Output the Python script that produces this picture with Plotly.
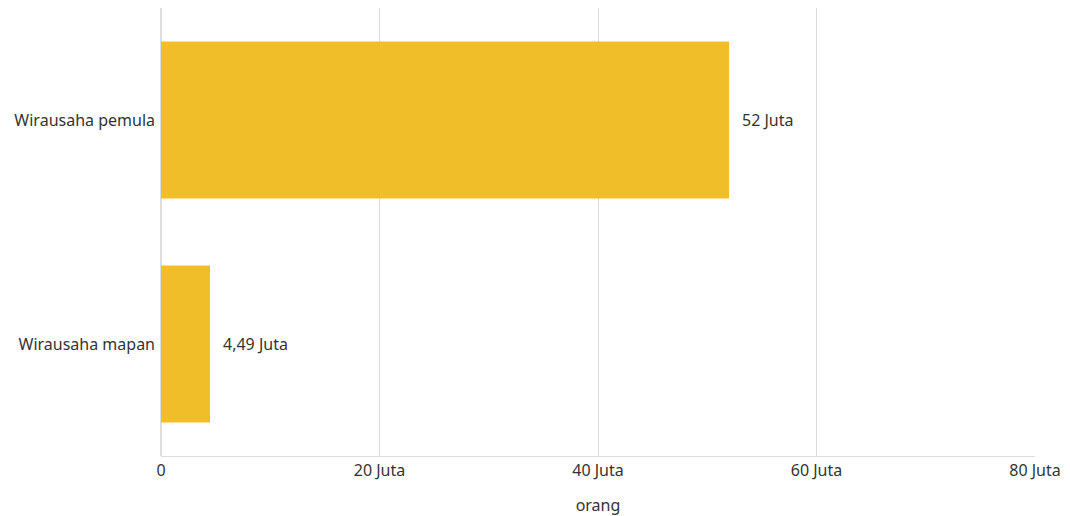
import plotly.graph_objects as go

categories = ["Wirausaha mapan", "Wirausaha pemula"]
values = [4.49, 52]
value_labels = ["4,49 Juta", "52 Juta"]
tick_vals = [0, 20, 40, 60, 80]
tick_text = ["0", "20 Juta", "40 Juta", "60 Juta", "80 Juta"]

font_family = "Segoe UI, Noto Sans, sans-serif"
text_color = "#333333"
fsize = 16

fig = go.Figure()
fig.add_trace(go.Bar(
    y=categories, x=values, orientation="h",
    marker=dict(color="#EFBE29", line=dict(width=0)),
    hoverinfo="skip",
))
for c, v, t in zip(categories, values, value_labels):
    fig.add_annotation(x=v, y=c, text=t, showarrow=False, xanchor="left",
                       xshift=11, font=dict(size=fsize, color=text_color, family=font_family))

fig.update_layout(
    width=1062, height=508,
    margin=dict(l=153, r=35, t=0, b=60),
    plot_bgcolor="white", paper_bgcolor="white",
    bargap=0.30,
    showlegend=False,
    font=dict(family=font_family, size=fsize, color=text_color),
    xaxis=dict(range=[0, 80], tickvals=tick_vals, ticktext=tick_text,
               showgrid=True, gridcolor="#DDDDDD", gridwidth=1,
               zeroline=True, zerolinecolor="#DDDDDD",
               showline=True, linecolor="#DDDDDD", mirror=False,
               title=dict(text="orang", font=dict(size=fsize, color=text_color), standoff=20),
               ticks="", fixedrange=True),
    yaxis=dict(showgrid=False, ticks="", showline=False, ticklabelstandoff=5, fixedrange=True),
)
fig.write_html("out.html")
